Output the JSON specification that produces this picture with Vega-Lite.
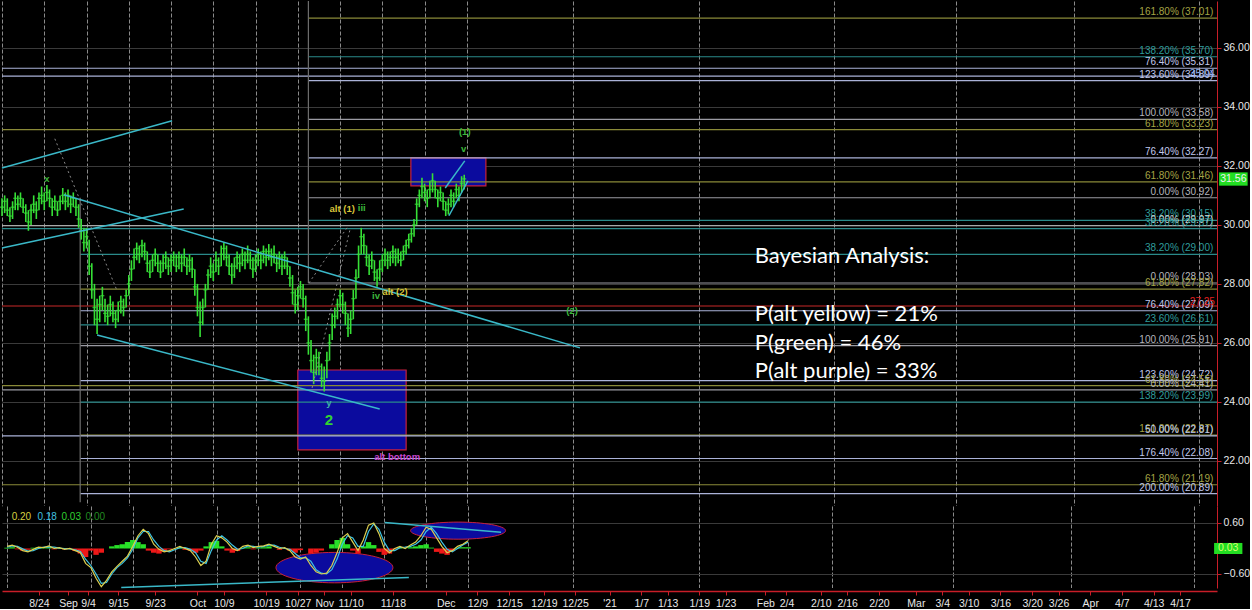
{
  "$schema": "https://vega.github.io/schema/vega-lite/v6.json",
  "background": "#000000",
  "padding": 0,
  "spacing": 0,
  "config": {
    "view": {"stroke": null},
    "font": "Liberation Sans",
    "axis": {"title": null, "gridOpacity": 1},
    "axisX": {"labelOverlap": false}
  },
  "datasets": {
    "price": [
      {"t":0,"h":30.9,"l":30.3,"c":30.6},{"t":0.5,"h":31.0,"l":30.4,"c":30.8},{"t":1,"h":30.9,"l":30.3,"c":30.5},{"t":1.5,"h":30.6,"l":30.1,"c":30.3},
      {"t":2,"h":30.8,"l":30.2,"c":30.6},{"t":2.5,"h":31.1,"l":30.5,"c":30.9},{"t":3,"h":31.0,"l":30.5,"c":30.7},{"t":3.5,"h":31.1,"l":30.6,"c":30.9},
      {"t":4,"h":30.9,"l":30.4,"c":30.6},{"t":4.5,"h":30.7,"l":30.1,"c":30.4},{"t":5,"h":30.5,"l":29.8,"c":30.1},{"t":5.5,"h":30.7,"l":30.0,"c":30.5},
      {"t":6,"h":31.0,"l":30.4,"c":30.7},{"t":6.5,"h":30.8,"l":30.2,"c":30.5},{"t":7,"h":31.1,"l":30.5,"c":30.9},{"t":7.5,"h":31.3,"l":30.7,"c":31.0},
      {"t":8,"h":31.1,"l":30.5,"c":30.8},{"t":8.5,"h":31.35,"l":30.8,"c":31.1},{"t":9,"h":31.2,"l":30.6,"c":30.9},{"t":9.5,"h":30.9,"l":30.3,"c":30.6},
      {"t":10,"h":31.0,"l":30.5,"c":30.8},{"t":10.5,"h":30.8,"l":30.3,"c":30.5},{"t":11,"h":31.0,"l":30.5,"c":30.8},{"t":11.5,"h":31.25,"l":30.7,"c":31.0},
      {"t":12,"h":31.1,"l":30.5,"c":30.8},{"t":12.5,"h":31.2,"l":30.6,"c":31.0},{"t":13,"h":31.0,"l":30.4,"c":30.7},{"t":13.5,"h":31.1,"l":30.6,"c":30.9},
      {"t":14,"h":30.9,"l":30.3,"c":30.6},{"t":14.5,"h":30.7,"l":29.9,"c":30.2},{"t":15,"h":30.2,"l":29.5,"c":29.8},{"t":15.5,"h":29.9,"l":29.1,"c":29.4},
      {"t":16,"h":29.9,"l":29.2,"c":29.6},{"t":16.5,"h":29.5,"l":28.3,"c":28.6},{"t":17,"h":28.7,"l":27.5,"c":27.8},{"t":17.5,"h":28.0,"l":26.6,"c":27.2},
      {"t":18,"h":27.5,"l":26.3,"c":26.8},{"t":18.5,"h":27.6,"l":26.7,"c":27.3},{"t":19,"h":27.9,"l":27.1,"c":27.6},{"t":19.5,"h":27.5,"l":26.7,"c":27.0},
      {"t":20,"h":27.3,"l":26.6,"c":26.9},{"t":20.5,"h":27.6,"l":26.9,"c":27.3},{"t":21,"h":27.4,"l":26.7,"c":27.0},{"t":21.5,"h":27.1,"l":26.5,"c":26.8},
      {"t":22,"h":27.4,"l":26.7,"c":27.1},{"t":22.5,"h":27.6,"l":27.0,"c":27.4},{"t":23,"h":27.5,"l":26.9,"c":27.2},{"t":23.5,"h":27.8,"l":27.2,"c":27.6},
      {"t":24,"h":28.3,"l":27.6,"c":28.0},{"t":24.5,"h":28.8,"l":28.1,"c":28.5},{"t":25,"h":29.2,"l":28.5,"c":28.9},{"t":25.5,"h":29.4,"l":28.8,"c":29.2},
      {"t":26,"h":29.3,"l":28.7,"c":29.0},{"t":26.5,"h":29.5,"l":28.9,"c":29.3},{"t":27,"h":29.4,"l":28.8,"c":29.1},{"t":27.5,"h":29.1,"l":28.4,"c":28.7},
      {"t":28,"h":28.8,"l":28.2,"c":28.4},{"t":28.5,"h":29.0,"l":28.4,"c":28.8},{"t":29,"h":29.2,"l":28.6,"c":29.0},{"t":29.5,"h":29.0,"l":28.4,"c":28.7},
      {"t":30,"h":28.8,"l":28.2,"c":28.4},{"t":30.5,"h":29.0,"l":28.4,"c":28.7},{"t":31,"h":29.1,"l":28.5,"c":28.9},{"t":31.5,"h":28.9,"l":28.3,"c":28.6},
      {"t":32,"h":29.0,"l":28.4,"c":28.8},{"t":32.5,"h":29.1,"l":28.6,"c":28.9},{"t":33,"h":29.0,"l":28.4,"c":28.6},{"t":33.5,"h":29.1,"l":28.5,"c":28.9},
      {"t":34,"h":29.0,"l":28.4,"c":28.7},{"t":34.5,"h":29.2,"l":28.6,"c":28.9},{"t":35,"h":28.9,"l":28.3,"c":28.6},{"t":35.5,"h":29.0,"l":28.4,"c":28.8},
      {"t":36,"h":28.9,"l":28.2,"c":28.5},{"t":36.5,"h":28.5,"l":27.6,"c":27.9},{"t":37,"h":28.0,"l":26.9,"c":27.2},{"t":37.5,"h":27.4,"l":26.2,"c":26.7},
      {"t":38,"h":27.5,"l":26.6,"c":27.2},{"t":38.5,"h":28.0,"l":27.2,"c":27.8},{"t":39,"h":28.5,"l":27.8,"c":28.3},{"t":39.5,"h":28.9,"l":28.2,"c":28.6},
      {"t":40,"h":28.7,"l":28.1,"c":28.4},{"t":40.5,"h":29.1,"l":28.4,"c":28.8},{"t":41,"h":28.9,"l":28.3,"c":28.6},{"t":41.5,"h":29.3,"l":28.6,"c":29.0},
      {"t":42,"h":29.4,"l":28.8,"c":29.2},{"t":42.5,"h":29.3,"l":28.6,"c":28.9},{"t":43,"h":29.0,"l":28.3,"c":28.6},{"t":43.5,"h":28.7,"l":28.0,"c":28.3},
      {"t":44,"h":28.9,"l":28.2,"c":28.6},{"t":44.5,"h":29.1,"l":28.5,"c":28.9},{"t":45,"h":29.0,"l":28.4,"c":28.7},{"t":45.5,"h":29.2,"l":28.6,"c":29.0},
      {"t":46,"h":29.1,"l":28.5,"c":28.8},{"t":46.5,"h":29.3,"l":28.7,"c":29.0},{"t":47,"h":29.1,"l":28.5,"c":28.8},{"t":47.5,"h":28.9,"l":28.2,"c":28.5},
      {"t":48,"h":29.0,"l":28.4,"c":28.8},{"t":48.5,"h":29.2,"l":28.6,"c":29.0},{"t":49,"h":29.1,"l":28.5,"c":28.8},{"t":49.5,"h":29.3,"l":28.7,"c":29.1},
      {"t":50,"h":29.2,"l":28.6,"c":28.9},{"t":50.5,"h":29.35,"l":28.8,"c":29.1},{"t":51,"h":29.2,"l":28.6,"c":28.9},{"t":51.5,"h":29.3,"l":28.7,"c":29.0},
      {"t":52,"h":29.0,"l":28.4,"c":28.7},{"t":52.5,"h":29.1,"l":28.5,"c":28.9},{"t":53,"h":29.0,"l":28.3,"c":28.6},{"t":53.5,"h":29.1,"l":28.5,"c":28.9},
      {"t":54,"h":28.9,"l":28.3,"c":28.6},{"t":54.5,"h":28.6,"l":27.9,"c":28.2},{"t":55,"h":28.3,"l":27.3,"c":27.7},{"t":55.5,"h":27.8,"l":27.0,"c":27.3},
      {"t":56,"h":27.9,"l":27.1,"c":27.6},{"t":56.5,"h":28.1,"l":27.5,"c":27.9},{"t":57,"h":28.0,"l":27.2,"c":27.5},{"t":57.5,"h":27.6,"l":26.4,"c":26.8},
      {"t":58,"h":26.9,"l":25.6,"c":26.0},{"t":58.5,"h":26.1,"l":25.0,"c":25.4},{"t":59,"h":25.6,"l":24.6,"c":25.0},{"t":59.5,"h":25.8,"l":24.9,"c":25.5},
      {"t":60,"h":25.7,"l":24.9,"c":25.2},{"t":60.5,"h":25.3,"l":24.5,"c":24.8},{"t":61,"h":25.2,"l":24.35,"c":24.7},{"t":61.5,"h":25.7,"l":24.8,"c":25.4},
      {"t":62,"h":26.3,"l":25.4,"c":26.0},{"t":62.5,"h":27.0,"l":26.1,"c":26.6},{"t":63,"h":27.2,"l":26.5,"c":26.9},{"t":63.5,"h":27.5,"l":26.8,"c":27.3},
      {"t":64,"h":27.8,"l":27.2,"c":27.6},{"t":64.5,"h":27.7,"l":27.0,"c":27.3},{"t":65,"h":27.4,"l":26.6,"c":27.0},{"t":65.5,"h":27.0,"l":26.2,"c":26.5},
      {"t":66,"h":27.1,"l":26.3,"c":26.8},{"t":66.5,"h":27.8,"l":26.8,"c":27.5},{"t":67,"h":28.5,"l":27.5,"c":28.2},{"t":67.5,"h":29.3,"l":28.2,"c":29.0},
      {"t":68,"h":29.9,"l":29.0,"c":29.6},{"t":68.5,"h":29.7,"l":29.0,"c":29.3},{"t":69,"h":29.3,"l":28.6,"c":28.9},{"t":69.5,"h":29.0,"l":28.3,"c":28.6},
      {"t":70,"h":29.1,"l":28.5,"c":28.8},{"t":70.5,"h":28.8,"l":28.1,"c":28.4},{"t":71,"h":28.5,"l":27.9,"c":28.2},{"t":71.5,"h":28.8,"l":28.1,"c":28.5},
      {"t":72,"h":29.0,"l":28.4,"c":28.8},{"t":72.5,"h":29.2,"l":28.6,"c":29.0},{"t":73,"h":29.1,"l":28.5,"c":28.8},{"t":73.5,"h":29.1,"l":28.6,"c":28.9},
      {"t":74,"h":29.3,"l":28.7,"c":29.1},{"t":74.5,"h":29.2,"l":28.6,"c":28.9},{"t":75,"h":29.2,"l":28.7,"c":29.0},{"t":75.5,"h":29.1,"l":28.6,"c":28.8},
      {"t":76,"h":29.3,"l":28.8,"c":29.1},{"t":76.5,"h":29.5,"l":29.0,"c":29.3},{"t":77,"h":29.7,"l":29.2,"c":29.5},{"t":77.5,"h":29.9,"l":29.4,"c":29.7},
      {"t":78,"h":30.2,"l":29.6,"c":30.0},{"t":78.5,"h":30.9,"l":30.0,"c":30.7},{"t":79,"h":31.2,"l":30.6,"c":31.0},{"t":79.5,"h":31.6,"l":30.9,"c":31.3},
      {"t":80,"h":31.4,"l":30.8,"c":31.1},{"t":80.5,"h":31.2,"l":30.6,"c":30.9},{"t":81,"h":31.5,"l":30.9,"c":31.2},{"t":81.5,"h":31.75,"l":31.1,"c":31.5},
      {"t":82,"h":31.5,"l":30.9,"c":31.2},{"t":82.5,"h":31.2,"l":30.6,"c":30.9},{"t":83,"h":31.3,"l":30.8,"c":31.1},{"t":83.5,"h":31.1,"l":30.5,"c":30.8},
      {"t":84,"h":30.8,"l":30.3,"c":30.5},{"t":84.5,"h":30.9,"l":30.35,"c":30.7},{"t":85,"h":31.2,"l":30.6,"c":31.0},{"t":85.5,"h":31.1,"l":30.6,"c":30.8},
      {"t":86,"h":31.4,"l":30.9,"c":31.2},{"t":86.5,"h":31.3,"l":30.8,"c":31.0},{"t":87,"h":31.65,"l":31.1,"c":31.4},{"t":87.5,"h":31.7,"l":31.2,"c":31.56}
    ],
    "osc": [
      {"t":0,"a":0.05,"b":0.03,"h":0.02},{"t":1,"a":0.08,"b":0.06,"h":0.03},{"t":2,"a":0.03,"b":0.05,"h":-0.02},{"t":3,"a":-0.05,"b":-0.01,"h":-0.05},
      {"t":4,"a":-0.08,"b":-0.06,"h":-0.03},{"t":5,"a":-0.02,"b":-0.05,"h":0.02},{"t":6,"a":0.03,"b":0.0,"h":0.03},{"t":7,"a":0.02,"b":0.03,"h":0.01},
      {"t":8,"a":0.06,"b":0.04,"h":0.03},{"t":9,"a":0.0,"b":0.03,"h":-0.02},{"t":10,"a":0.02,"b":0.01,"h":0.01},{"t":11,"a":-0.02,"b":0.0,"h":-0.02},
      {"t":12,"a":0.0,"b":-0.01,"h":0.0},{"t":13,"a":-0.05,"b":-0.03,"h":-0.06},{"t":14,"a":-0.1,"b":-0.07,"h":-0.12},{"t":15,"a":-0.35,"b":-0.25,"h":-0.2},
      {"t":16,"a":-0.45,"b":-0.4,"h":-0.05},{"t":17,"a":-0.7,"b":-0.6,"h":-0.15},{"t":18,"a":-0.9,"b":-0.82,"h":-0.1},{"t":19,"a":-0.75,"b":-0.8,"h":0.0},
      {"t":20,"a":-0.55,"b":-0.6,"h":0.05},{"t":21,"a":-0.42,"b":-0.45,"h":0.08},{"t":22,"a":-0.3,"b":-0.35,"h":0.1},{"t":23,"a":-0.18,"b":-0.22,"h":0.15},
      {"t":24,"a":0.05,"b":-0.02,"h":0.2},{"t":25,"a":0.3,"b":0.25,"h":0.15},{"t":26,"a":0.45,"b":0.4,"h":0.1},{"t":27,"a":0.35,"b":0.4,"h":-0.05},
      {"t":28,"a":0.1,"b":0.2,"h":-0.1},{"t":29,"a":-0.02,"b":0.05,"h":-0.12},{"t":30,"a":-0.08,"b":-0.05,"h":-0.08},{"t":31,"a":-0.05,"b":-0.08,"h":-0.02},
      {"t":32,"a":0.0,"b":-0.03,"h":0.0},{"t":33,"a":0.05,"b":0.02,"h":0.02},{"t":34,"a":0.0,"b":0.02,"h":-0.03},{"t":35,"a":-0.05,"b":-0.02,"h":-0.05},
      {"t":36,"a":-0.2,"b":-0.1,"h":-0.1},{"t":37,"a":-0.4,"b":-0.3,"h":-0.05},{"t":38,"a":-0.3,"b":-0.35,"h":0.05},{"t":39,"a":0.1,"b":-0.05,"h":0.15},
      {"t":40,"a":0.3,"b":0.2,"h":0.18},{"t":41,"a":0.25,"b":0.3,"h":0.05},{"t":42,"a":0.15,"b":0.2,"h":-0.05},{"t":43,"a":0.0,"b":0.08,"h":-0.1},
      {"t":44,"a":-0.05,"b":-0.02,"h":-0.06},{"t":45,"a":0.05,"b":0.0,"h":0.02},{"t":46,"a":0.08,"b":0.06,"h":0.03},{"t":47,"a":0.02,"b":0.05,"h":-0.02},
      {"t":48,"a":0.05,"b":0.03,"h":0.02},{"t":49,"a":0.06,"b":0.05,"h":0.03},{"t":50,"a":0.1,"b":0.08,"h":0.05},{"t":51,"a":0.05,"b":0.08,"h":0.0},
      {"t":52,"a":0.0,"b":0.03,"h":-0.03},{"t":53,"a":0.02,"b":0.0,"h":0.0},{"t":54,"a":-0.05,"b":-0.02,"h":-0.05},{"t":55,"a":-0.2,"b":-0.12,"h":-0.1},
      {"t":56,"a":-0.25,"b":-0.22,"h":-0.04},{"t":57,"a":-0.2,"b":-0.22,"h":0.0},{"t":58,"a":-0.4,"b":-0.3,"h":-0.12},{"t":59,"a":-0.55,"b":-0.5,"h":-0.1},
      {"t":60,"a":-0.6,"b":-0.58,"h":-0.05},{"t":61,"a":-0.58,"b":-0.6,"h":0.0},{"t":62,"a":-0.4,"b":-0.5,"h":0.1},{"t":63,"a":-0.1,"b":-0.25,"h":0.2},
      {"t":64,"a":0.25,"b":0.1,"h":0.25},{"t":65,"a":0.35,"b":0.3,"h":0.1},{"t":66,"a":0.15,"b":0.25,"h":-0.05},{"t":67,"a":-0.05,"b":0.05,"h":-0.12},
      {"t":68,"a":0.2,"b":0.05,"h":0.05},{"t":69,"a":0.55,"b":0.4,"h":0.15},{"t":70,"a":0.6,"b":0.58,"h":0.08},{"t":71,"a":0.35,"b":0.45,"h":-0.08},
      {"t":72,"a":0.0,"b":0.15,"h":-0.15},{"t":73,"a":-0.1,"b":-0.05,"h":-0.12},{"t":74,"a":0.0,"b":-0.05,"h":-0.02},{"t":75,"a":0.05,"b":0.02,"h":0.03},
      {"t":76,"a":0.0,"b":0.03,"h":0.0},{"t":77,"a":0.08,"b":0.05,"h":0.03},{"t":78,"a":0.15,"b":0.1,"h":0.05},{"t":79,"a":0.3,"b":0.2,"h":0.08},
      {"t":80,"a":0.5,"b":0.4,"h":0.1},{"t":81,"a":0.45,"b":0.5,"h":0.02},{"t":82,"a":0.25,"b":0.35,"h":-0.08},{"t":83,"a":0.05,"b":0.15,"h":-0.12},
      {"t":84,"a":-0.1,"b":-0.02,"h":-0.15},{"t":85,"a":-0.05,"b":-0.08,"h":-0.06},{"t":86,"a":0.05,"b":0.0,"h":0.02},{"t":87,"a":0.1,"b":0.08,"h":0.03},
      {"t":88,"a":0.18,"b":0.15,"h":0.03}
    ],
    "fib": [
      {"p":37.01,"x0":58,"c":"o","lab":"161.80% (37.01)"},
      {"p":35.70,"x0":58,"c":"t","lab":"138.20% (35.70)"},
      {"p":35.31,"x0":0,"c":"l","lab":"76.40% (35.31)"},
      {"p":35.04,"x0":0,"c":"l","lab":""},
      {"p":34.89,"x0":58,"c":"l","lab":"123.60% (34.89)"},
      {"p":33.58,"x0":58,"c":"g","lab":"100.00% (33.58)"},
      {"p":33.23,"x0":0,"c":"o","lab":"61.80% (33.23)"},
      {"p":32.27,"x0":58,"c":"l","lab":"76.40% (32.27)"},
      {"p":31.46,"x0":58,"c":"o","lab":"61.80% (31.46)"},
      {"p":30.92,"x0":58,"c":"g","lab":"0.00% (30.92)"},
      {"p":30.15,"x0":58,"c":"t","lab":"38.20% (30.15)"},
      {"p":29.97,"x0":0,"c":"w","lab":"0.00% (29.97)"},
      {"p":29.87,"x0":0,"c":"t","lab":"38.20% (29.87)"},
      {"p":29.00,"x0":14.8,"c":"t","lab":"38.20% (29.00)"},
      {"p":28.03,"x0":58,"c":"g","lab":"0.00% (28.03)"},
      {"p":27.82,"x0":14.8,"c":"o","lab":"61.80% (27.82)"},
      {"p":27.25,"x0":0,"c":"r","lab":""},
      {"p":27.09,"x0":14.8,"c":"l","lab":"76.40% (27.09)"},
      {"p":26.61,"x0":14.8,"c":"t","lab":"23.60% (26.61)"},
      {"p":25.91,"x0":14.8,"c":"g","lab":"100.00% (25.91)"},
      {"p":24.72,"x0":14.8,"c":"l","lab":"123.60% (24.72)"},
      {"p":24.55,"x0":0,"c":"o","lab":"61.80% (24.55)"},
      {"p":24.41,"x0":0,"c":"g","lab":"0.00% (24.41)"},
      {"p":23.99,"x0":14.8,"c":"t","lab":"138.20% (23.99)"},
      {"p":22.87,"x0":14.8,"c":"o","lab":"161.80% (22.87)"},
      {"p":22.85,"x0":0,"c":"l","lab":"50.00% (22.81)"},
      {"p":22.08,"x0":14.8,"c":"l","lab":"176.40% (22.08)"},
      {"p":21.19,"x0":0,"c":"o","lab":"61.80% (21.19)"},
      {"p":20.89,"x0":14.8,"c":"l","lab":"200.00% (20.89)"}
    ],
    "vlines": [
      {"t":58,"p1":28.03,"p2":37.59},
      {"t":14.8,"p1":20.6,"p2":30.92}
    ],
    "boxes": [
      {"x1":77.4,"x2":91.6,"y1":32.27,"y2":31.32},
      {"x1":56.0,"x2":76.5,"y1":25.08,"y2":22.37}
    ],
    "trend": [
      {"x1":0,"y1":31.93,"x2":32.2,"y2":33.53},
      {"x1":0,"y1":29.22,"x2":34.4,"y2":30.54},
      {"x1":11.7,"y1":31.02,"x2":109.4,"y2":25.83},
      {"x1":18,"y1":26.27,"x2":71.5,"y2":23.76},
      {"x1":83.9,"y1":31.25,"x2":87.6,"y2":32.17},
      {"x1":84.6,"y1":30.31,"x2":88.2,"y2":31.49}
    ],
    "dotted": [
      {"x1":10,"y1":32.92,"x2":21.8,"y2":27.76},
      {"x1":58.7,"y1":24.47,"x2":65.9,"y2":29.86},
      {"x1":58.1,"y1":28.03,"x2":65.3,"y2":29.9}
    ],
    "waves": [
      {"t":8.5,"p":31.56,"s":"x","k":"g"},
      {"t":61.9,"p":23.97,"s":"y","k":"c"},
      {"t":64.4,"p":30.54,"s":"alt (1)","k":"y"},
      {"t":68.1,"p":30.58,"s":"iii","k":"g"},
      {"t":70.8,"p":27.59,"s":"iv","k":"g"},
      {"t":74.4,"p":27.73,"s":"alt (2)","k":"y"},
      {"t":87.6,"p":33.15,"s":"(1)","k":"g"},
      {"t":87.4,"p":32.58,"s":"v","k":"g"},
      {"t":107.9,"p":27.08,"s":"(2)","k":"g"},
      {"t":74.8,"p":22.14,"s":"alt bottom","k":"m"}
    ],
    "big": [{"t":61.9,"p":23.39,"s":"2"}],
    "bayes": [
      {"t":142.5,"p":28.95,"s":"Bayesian Analysis:"},
      {"t":142.5,"p":26.98,"s":"P(alt yellow) = 21%"},
      {"t":142.5,"p":26.0,"s":"P(green) = 46%"},
      {"t":142.5,"p":25.05,"s":"P(alt purple) = 33%"}
    ],
    "marks": [
      {"p":35.1,"s":"35.04","k":"b"},
      {"p":27.4,"s":"27.25","k":"r"}
    ],
    "tag": [{"x1":230.4,"x2":235.8,"y1":31.78,"y2":31.33,"t":233.1,"p":31.555,"s":"31.56"}],
    "otag": [{"x1":230.4,"x2":235.8,"y1":0.13,"y2":-0.13,"t":233.1,"v":0.0,"s":"0.03"}],
    "otrend": [
      {"x1":21.8,"y1":-0.92,"x2":76.7,"y2":-0.68},
      {"x1":72.1,"y1":0.61,"x2":94.3,"y2":0.38}
    ],
    "oleg": [
      {"t":0.9,"v":0.75,"s":"0.20","k":"a"},
      {"t":5.8,"v":0.75,"s":"0.18","k":"b"},
      {"t":10.4,"v":0.75,"s":"0.03","k":"c"},
      {"t":15.0,"v":0.75,"s":"0.00","k":"d"}
    ],
    "ell1": [{"t":62.5,"v":-0.45}],
    "ell2": [{"t":86.1,"v":0.42}]
  },
  "vconcat": [
    {
      "width": 1215,
      "height": 505,
      "resolve": {"scale": {"color": "independent"}},
      "layer": [
        {
          "data": {"name": "boxes"},
          "mark": {"type": "rect", "fill": "#0b0b9e", "stroke": "#c8203c", "strokeWidth": 1.2},
          "encoding": {
            "x": {"field": "x1", "type": "quantitative",
              "scale": {"domain": [0, 230], "nice": false, "zero": false},
              "axis": {"orient": "bottom", "labels": false, "ticks": false, "domain": true, "domainColor": "#000000", "grid": true,
                "gridColor": "#8a8a8a", "gridDash": [4, 2], "gridWidth": 1,
                "values": [0,1,2,3,4,5,6,7,8,9,10,11,12,13,14,15,16,17,18,19,20,21,22,23,24,25,26,27,28,29,30,31,32,33,34,35,36,37,38,39,40,41,42,43,44,45,46,47,48,49,50,51,52,53,54,55,56,57,58,59,60,61,62,63,64,65,66,67,68,69,70,71,72,73,74,75,76,77,78,79,80,81,82,83,84,85,86,87,88,89,90,93,96,99.5,103,105.5,108,111.5,115,118,121,123.5,126,129,132,134.5,137,141,145,148,151.5,155,157.5,160,163,166,169.5,173,175.5,178,180.5,183,186,189,192,195,197.5,200,203,206,209,212,215,218,220.5,223,226.5]}},
            "x2": {"field": "x2"},
            "y": {"field": "y1", "type": "quantitative",
              "scale": {"domain": [20.47, 37.59], "nice": false, "zero": false},
              "axis": {"orient": "right", "values": [22, 24, 26, 28, 30, 32, 34, 36], "format": ".2f",
                "domainColor": "#c81e28", "tickColor": "#c81e28", "tickSize": 4, "labelColor": "#e8e8e8",
                "labelFontSize": 10.5, "labelPadding": 2, "grid": true, "gridColor": "#3a3a3a"}},
            "y2": {"field": "y2"}
          }
        },
        {
          "data": {"name": "fib"},
          "mark": {"type": "rule", "strokeWidth": 1.2},
          "encoding": {
            "x": {"field": "x0", "type": "quantitative"},
            "x2": {"datum": 230},
            "y": {"field": "p", "type": "quantitative"},
            "color": {"field": "c", "type": "nominal", "legend": null,
              "scale": {"domain": ["o", "t", "l", "g", "w", "r"], "range": ["#8a8a38", "#2a8a8a", "#aab2d8", "#9a9aa2", "#cfcfcf", "#c82828"]}}
          }
        },
        {
          "data": {"name": "vlines"},
          "mark": {"type": "rule", "color": "#6e6e6e", "strokeWidth": 1.2},
          "encoding": {
            "x": {"field": "t", "type": "quantitative"},
            "y": {"field": "p1", "type": "quantitative"},
            "y2": {"field": "p2"}
          }
        },
        {
          "data": {"name": "price"},
          "mark": {"type": "rule", "color": "#36e036", "strokeWidth": 1.6},
          "encoding": {
            "x": {"field": "t", "type": "quantitative"},
            "y": {"field": "l", "type": "quantitative"},
            "y2": {"field": "h"}
          }
        },
        {
          "data": {"name": "price"},
          "mark": {"type": "tick", "color": "#36e036", "size": 4, "thickness": 1.4, "orient": "horizontal"},
          "encoding": {
            "x": {"field": "t", "type": "quantitative"},
            "y": {"field": "c", "type": "quantitative"}
          }
        },
        {
          "data": {"name": "trend"},
          "mark": {"type": "rule", "color": "#3ab8c8", "strokeWidth": 1.5},
          "encoding": {
            "x": {"field": "x1", "type": "quantitative"},
            "x2": {"field": "x2"},
            "y": {"field": "y1", "type": "quantitative"},
            "y2": {"field": "y2"}
          }
        },
        {
          "data": {"name": "dotted"},
          "mark": {"type": "rule", "color": "#8a8a8a", "strokeWidth": 1, "strokeDash": [2, 3]},
          "encoding": {
            "x": {"field": "x1", "type": "quantitative"},
            "x2": {"field": "x2"},
            "y": {"field": "y1", "type": "quantitative"},
            "y2": {"field": "y2"}
          }
        },
        {
          "data": {"name": "fib"},
          "mark": {"type": "text", "align": "right", "baseline": "alphabetic", "dy": -3, "fontSize": 10},
          "encoding": {
            "x": {"datum": 229.3, "type": "quantitative"},
            "y": {"field": "p", "type": "quantitative"},
            "text": {"field": "lab"},
            "color": {"field": "c", "type": "nominal", "legend": null,
              "scale": {"domain": ["o", "t", "l", "g", "w", "r"], "range": ["#a4a444", "#2f9c9c", "#c0c8ec", "#b4b4bc", "#d8d8d8", "#d03030"]}}
          }
        },
        {
          "data": {"name": "waves"},
          "mark": {"type": "text", "fontSize": 9.5, "fontWeight": "bold", "baseline": "middle"},
          "encoding": {
            "x": {"field": "t", "type": "quantitative"},
            "y": {"field": "p", "type": "quantitative"},
            "text": {"field": "s"},
            "color": {"field": "k", "type": "nominal", "legend": null,
              "scale": {"domain": ["g", "c", "y", "m"], "range": ["#3cb83c", "#40b4a4", "#d8c43a", "#c846d0"]}}
          }
        },
        {
          "data": {"name": "big"},
          "mark": {"type": "text", "fontSize": 15, "fontWeight": "bold", "baseline": "middle", "color": "#32d232"},
          "encoding": {
            "x": {"field": "t", "type": "quantitative"},
            "y": {"field": "p", "type": "quantitative"},
            "text": {"field": "s"}
          }
        },
        {
          "data": {"name": "bayes"},
          "mark": {"type": "text", "font": "Lato", "fontSize": 22, "align": "left", "baseline": "middle", "color": "#ffffff"},
          "encoding": {
            "x": {"field": "t", "type": "quantitative"},
            "y": {"field": "p", "type": "quantitative"},
            "text": {"field": "s"}
          }
        },
        {
          "data": {"name": "marks"},
          "mark": {"type": "text", "fontSize": 10, "align": "right", "baseline": "middle"},
          "encoding": {
            "x": {"datum": 229.6, "type": "quantitative"},
            "y": {"field": "p", "type": "quantitative"},
            "text": {"field": "s"},
            "color": {"field": "k", "type": "nominal", "legend": null,
              "scale": {"domain": ["b", "r"], "range": ["#90b0f0", "#e02020"]}}
          }
        },
        {
          "data": {"name": "tag"},
          "mark": {"type": "rect", "fill": "#22dd22"},
          "encoding": {
            "x": {"field": "x1", "type": "quantitative"},
            "x2": {"field": "x2"},
            "y": {"field": "y1", "type": "quantitative"},
            "y2": {"field": "y2"}
          }
        },
        {
          "data": {"name": "tag"},
          "mark": {"type": "text", "fontSize": 10.5, "baseline": "middle", "color": "#f0f0f0"},
          "encoding": {
            "x": {"field": "t", "type": "quantitative"},
            "y": {"field": "p", "type": "quantitative"},
            "text": {"field": "s"}
          }
        }
      ]
    },
    {
      "width": 1215,
      "height": 82,
      "resolve": {"scale": {"color": "independent"}},
      "layer": [
        {
          "data": {"name": "ell1"},
          "mark": {"type": "point", "filled": true, "fill": "#0b0b9e", "stroke": "#c8203c", "strokeWidth": 1, "opacity": 1,
            "shape": "M-1,0A1,0.26,0,1,0,1,0A1,0.26,0,1,0,-1,0Z", "size": 13689},
          "encoding": {
            "x": {"field": "t", "type": "quantitative",
              "scale": {"domain": [0, 230], "nice": false, "zero": false},
              "axis": {"orient": "bottom", "labels": false, "ticks": false, "domain": true, "domainColor": "#000000", "grid": true,
                "gridColor": "#8a8a8a", "gridDash": [4, 2],
                "values": [0,1,2,3,4,5,6,7,8,9,10,11,12,13,14,15,16,17,18,19,20,21,22,23,24,25,26,27,28,29,30,31,32,33,34,35,36,37,38,39,40,41,42,43,44,45,46,47,48,49,50,51,52,53,54,55,56,57,58,59,60,61,62,63,64,65,66,67,68,69,70,71,72,73,74,75,76,77,78,79,80,81,82,83,84,85,86,87,88,89,90,93,96,99.5,103,105.5,108,111.5,115,118,121,123.5,126,129,132,134.5,137,141,145,148,151.5,155,157.5,160,163,166,169.5,173,175.5,178,180.5,183,186,189,192,195,197.5,200,203,206,209,212,215,218,220.5,223,226.5]}},
            "y": {"field": "v", "type": "quantitative",
              "scale": {"domain": [-0.93, 1.0], "nice": false, "zero": false},
              "axis": {"orient": "right", "values": [-0.6, 0.6], "format": ".2f",
                "domainColor": "#c81e28", "tickColor": "#c81e28", "tickSize": 4, "labelColor": "#e8e8e8",
                "labelFontSize": 10.5, "labelPadding": 2, "grid": true, "gridColor": "#3a3a3a"}}
          }
        },
        {
          "data": {"name": "ell2"},
          "mark": {"type": "point", "filled": true, "fill": "#0b0b9e", "stroke": "#c8203c", "strokeWidth": 1, "opacity": 1,
            "shape": "M-1,0A1,0.18,0,1,0,1,0A1,0.18,0,1,0,-1,0Z", "size": 9025},
          "encoding": {
            "x": {"field": "t", "type": "quantitative"},
            "y": {"field": "v", "type": "quantitative"}
          }
        },
        {
          "data": {"name": "osc"},
          "mark": {"type": "bar", "size": 5.4},
          "encoding": {
            "x": {"field": "t", "type": "quantitative"},
            "y": {"field": "h", "type": "quantitative"},
            "y2": {"datum": 0},
            "color": {"condition": {"test": "datum.h > 0", "value": "#28e028"}, "value": "#ee1818"}
          }
        },
        {
          "data": {"name": "osc"},
          "mark": {"type": "line", "color": "#3cc4e4", "strokeWidth": 1.2},
          "encoding": {
            "x": {"field": "t", "type": "quantitative"},
            "y": {"field": "b", "type": "quantitative"}
          }
        },
        {
          "data": {"name": "osc"},
          "mark": {"type": "line", "color": "#dcd050", "strokeWidth": 1.2},
          "encoding": {
            "x": {"field": "t", "type": "quantitative"},
            "y": {"field": "a", "type": "quantitative"}
          }
        },
        {
          "data": {"name": "otrend"},
          "mark": {"type": "rule", "color": "#3ab8c8", "strokeWidth": 1.5},
          "encoding": {
            "x": {"field": "x1", "type": "quantitative"},
            "x2": {"field": "x2"},
            "y": {"field": "y1", "type": "quantitative"},
            "y2": {"field": "y2"}
          }
        },
        {
          "data": {"name": "oleg"},
          "mark": {"type": "text", "fontSize": 10, "align": "left", "baseline": "middle"},
          "encoding": {
            "x": {"field": "t", "type": "quantitative"},
            "y": {"field": "v", "type": "quantitative"},
            "text": {"field": "s"},
            "color": {"field": "k", "type": "nominal", "legend": null,
              "scale": {"domain": ["a", "b", "c", "d"], "range": ["#d8d040", "#40c0e0", "#30d030", "#208a20"]}}
          }
        },
        {
          "data": {"name": "otag"},
          "mark": {"type": "rect", "fill": "#22dd22"},
          "encoding": {
            "x": {"field": "x1", "type": "quantitative"},
            "x2": {"field": "x2"},
            "y": {"field": "y1", "type": "quantitative"},
            "y2": {"field": "y2"}
          }
        },
        {
          "data": {"name": "otag"},
          "mark": {"type": "text", "fontSize": 10.5, "baseline": "middle", "color": "#d8ff70"},
          "encoding": {
            "x": {"field": "t", "type": "quantitative"},
            "y": {"field": "v", "type": "quantitative"},
            "text": {"field": "s"}
          }
        }
      ]
    },
    {
      "width": 1215,
      "height": 1,
      "data": {"name": "big"},
      "mark": {"type": "tick", "opacity": 0},
      "encoding": {
        "x": {"field": "t", "type": "quantitative",
          "scale": {"domain": [0, 230], "nice": false, "zero": false},
          "axis": {"orient": "bottom", "grid": false, "domainColor": "#c81e28", "domainWidth": 1.5,
            "ticks": true, "tickColor": "#c81e28", "tickSize": 4,
            "labelColor": "#e8e8e8", "labelFontSize": 10.5, "labelFont": "Liberation Sans Narrow, Arial Narrow, Liberation Sans",
            "labelPadding": 3, "labelOverlap": false, "labelFlush": false,
            "values": [7,12.5,16.3,22,29,37,42,50,56,61,66,74,84,90,96,102.6,108.5,115,121,126,132,137,144.5,148.5,155,160,166,173,178,183,189,195,200,206,212,218,223],
            "labelExpr": "['8/24','Sep','9/4','9/15','9/23','Oct','10/9','10/19','10/27','Nov','11/10','11/18','Dec','12/9','12/15','12/19','12/25',\"'21\",'1/7','1/13','1/19','1/23','Feb','2/4','2/10','2/16','2/20','Mar','3/4','3/10','3/16','3/20','3/26','Apr','4/7','4/13','4/17'][indexof([7,12.5,16.3,22,29,37,42,50,56,61,66,74,84,90,96,102.6,108.5,115,121,126,132,137,144.5,148.5,155,160,166,173,178,183,189,195,200,206,212,218,223], datum.value)]"}}
      }
    }
  ]
}
